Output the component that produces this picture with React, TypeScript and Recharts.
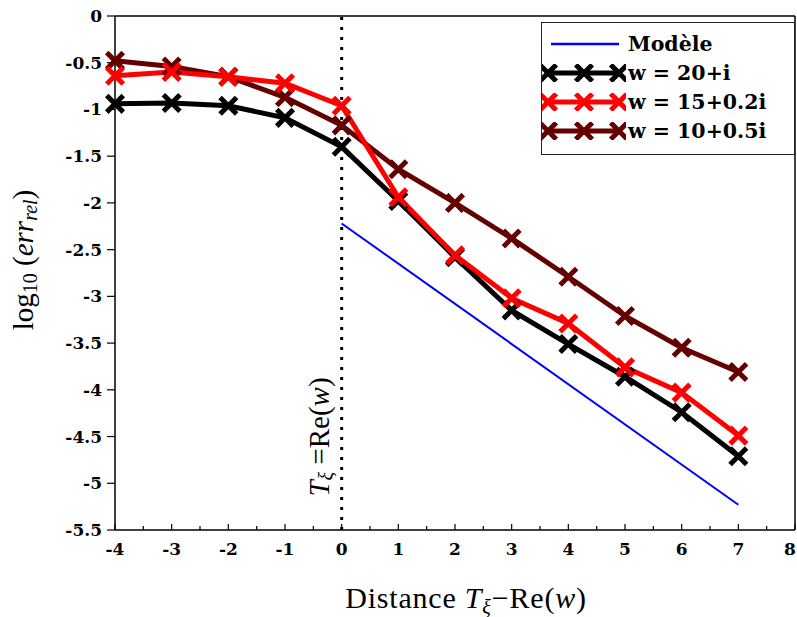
import { Line, LineChart, ReferenceLine, XAxis, YAxis, Label } from "recharts";

// distance T_xi - Re(w)
const distances = [-4, -3, -2, -1, 0, 1, 2, 3, 4, 5, 6, 7];
// log10 relative error for each test frequency
const errW20 = [-0.94, -0.93, -0.96, -1.09, -1.4, -1.98, -2.58, -3.15, -3.51, -3.86, -4.24, -4.71];
const errW15 = [-0.64, -0.6, -0.65, -0.72, -0.96, -1.94, -2.56, -3.02, -3.29, -3.76, -4.03, -4.49];
const errW10 = [-0.48, -0.54, -0.65, -0.87, -1.17, -1.64, -2.0, -2.38, -2.79, -3.21, -3.55, -3.81];
// model slope line, only drawn between its two ends
const modelX = [0, 7];
const modelY = [-2.22, -5.23];

const xTicks = [-4, -3.5, -3, -2.5, -2, -1.5, -1, -0.5, 0, 0.5, 1, 1.5, 2, 2.5, 3, 3.5, 4, 4.5, 5, 5.5, 6, 6.5, 7, 7.5, 8];
const yTicks = [0, -0.5, -1, -1.5, -2, -2.5, -3, -3.5, -4, -4.5, -5, -5.5];

const rows = distances.map((d, i) => {
  const m = modelX.indexOf(d);
  return { d, w20: errW20[i], w15: errW15[i], w10: errW10[i], model: m >= 0 ? modelY[m] : null };
});

const SERIF = "'DejaVu Serif', serif";
const MATH = "'Liberation Serif', serif";
const DARK = "#640000";

function Cross({ cx, cy, color }: any) {
  if (cx == null || cy == null) return null;
  const s = 6.5;
  return (
    <path
      d={`M${cx - s},${cy - s}L${cx + s},${cy + s}M${cx - s},${cy + s}L${cx + s},${cy - s}`}
      stroke={color}
      strokeWidth={5}
      strokeLinecap="square"
      fill="none"
    />
  );
}

function XTick({ x, y, payload }: any) {
  const v = payload.value;
  const major = Number.isInteger(v);
  // last label sits on the window edge, nudge it in a little
  const tx = v === 8 ? x - 5 : x;
  return (
    <g>
      <line x1={x} x2={x} y1={y} y2={y - (major ? 6 : 4)} stroke="#000" strokeWidth={1.2} />
      {major && (
        <text x={tx} y={y + 25} textAnchor="middle" fontFamily={SERIF} fontWeight="bold" fontSize={17} fill="#000">
          {v}
        </text>
      )}
    </g>
  );
}

function LegendSample({ color }: { color: string }) {
  return (
    <svg width={84} height={18} style={{ display: "block" }}>
      <line x1={5} x2={78} y1={9} y2={9} stroke={color} strokeWidth={5} />
      {[6, 42, 77].map((cx) => (
        <Cross key={cx} cx={cx} cy={9} color={color} />
      ))}
    </svg>
  );
}

const legendItems = [
  { label: "w = 20+i", color: "#000" },
  { label: "w = 15+0.2i", color: "#ff0000" },
  { label: "w = 10+0.5i", color: DARK },
];

export default function App() {
  return (
    <div style={{ position: "absolute", left: 0, top: 0, width: 797, height: 617, background: "#fff" }}>
      <LineChart width={797} height={617} data={rows} margin={{ top: 16, right: 2, bottom: 0, left: 0 }}>
        <XAxis
          dataKey="d"
          type="number"
          domain={[-4, 8]}
          ticks={xTicks}
          interval={0}
          tickSize={0}
          tickMargin={0}
          tick={<XTick />}
          height={87}
          axisLine={{ stroke: "#000", strokeWidth: 1.5 }}
          tickLine={false}
        >
          <Label
            content={({ viewBox }: any) => (
              <text
                x={viewBox.x + viewBox.width / 2 + 11}
                y={viewBox.y + 78}
                textAnchor="middle"
                fontFamily={MATH}
                fontSize={30}
                letterSpacing={0.8}
                fill="#000"
              >
                Distance <tspan fontStyle="italic">T</tspan>
                <tspan fontStyle="italic" fontSize={20} dy={6}>ξ</tspan>
                <tspan dy={-6}>−Re(</tspan>
                <tspan fontStyle="italic">w</tspan>
                <tspan>)</tspan>
              </text>
            )}
          />
        </XAxis>
        <YAxis
          type="number"
          domain={[-5.5, 0]}
          ticks={yTicks}
          interval={0}
          width={115}
          tickSize={8}
          tickMargin={5}
          tick={{ fontFamily: SERIF, fontWeight: "bold", fontSize: 17, fill: "#000" }}
          tickLine={{ stroke: "#000", strokeWidth: 1.2 }}
          axisLine={{ stroke: "#000", strokeWidth: 1.5 }}
        >
          <Label
            content={({ viewBox }: any) => {
              const cx = 26;
              const cy = viewBox.y + 244;
              return (
                <text
                  x={cx}
                  y={cy}
                  transform={`rotate(-90 ${cx} ${cy})`}
                  textAnchor="middle"
                  dominantBaseline="middle"
                  fontFamily={MATH}
                  fontSize={29}
                  fill="#000"
                >
                  log<tspan fontSize={20} dy={6}>10</tspan>
                  <tspan dy={-6}> (</tspan>
                  <tspan fontStyle="italic">err</tspan>
                  <tspan fontStyle="italic" fontSize={20} dy={6}>rel</tspan>
                  <tspan dy={-6}>)</tspan>
                </text>
              );
            }}
          />
        </YAxis>
        <ReferenceLine y={0} stroke="#000" strokeWidth={1.5} />
        <ReferenceLine x={8} stroke="#000" strokeWidth={1.5} />
        <ReferenceLine x={0} stroke="#000" strokeWidth={3} strokeDasharray="3 7">
          <Label
            content={({ viewBox }: any) => {
              const cx = viewBox.x - 20;
              const cy = viewBox.y + 421;
              return (
                <text
                  x={cx}
                  y={cy}
                  transform={`rotate(-90 ${cx} ${cy})`}
                  textAnchor="middle"
                  dominantBaseline="middle"
                  fontFamily={MATH}
                  fontSize={29}
                  fill="#000"
                >
                  <tspan fontStyle="italic">T</tspan>
                  <tspan fontStyle="italic" fontSize={20} dy={6}>ξ</tspan>
                  <tspan dy={-6}> =Re(</tspan>
                  <tspan fontStyle="italic">w</tspan>
                  <tspan>)</tspan>
                </text>
              );
            }}
          />
        </ReferenceLine>
        <Line dataKey="model" stroke="#0000ff" strokeWidth={2} dot={false} connectNulls isAnimationActive={false} />
        <Line dataKey="w10" stroke={DARK} strokeWidth={5} dot={<Cross color={DARK} />} isAnimationActive={false} />
        <Line dataKey="w20" stroke="#000" strokeWidth={5} dot={<Cross color="#000" />} isAnimationActive={false} />
        <Line dataKey="w15" stroke="#ff0000" strokeWidth={5} dot={<Cross color="#ff0000" />} isAnimationActive={false} />
      </LineChart>
      <div
        style={{
          position: "absolute",
          left: 541,
          top: 22,
          width: 254,
          height: 133,
          border: "1.5px solid #222",
          background: "#fff",
          fontFamily: SERIF,
          fontWeight: "bold",
          fontSize: 20.5,
          boxSizing: "border-box",
        }}
      >
        <div style={{ display: "flex", alignItems: "center", height: 29, marginTop: 6 }}>
          <svg width={86} height={16} style={{ display: "block" }}>
            <line x1={9} x2={77} y1={8} y2={8} stroke="#0000ff" strokeWidth={2.5} />
          </svg>
          <span>Modèle</span>
        </div>
        {legendItems.map((it) => (
          <div key={it.label} style={{ display: "flex", alignItems: "center", height: 29 }}>
            <div style={{ width: 86 }}>
              <LegendSample color={it.color} />
            </div>
            <span>{it.label}</span>
          </div>
        ))}
      </div>
    </div>
  );
}
